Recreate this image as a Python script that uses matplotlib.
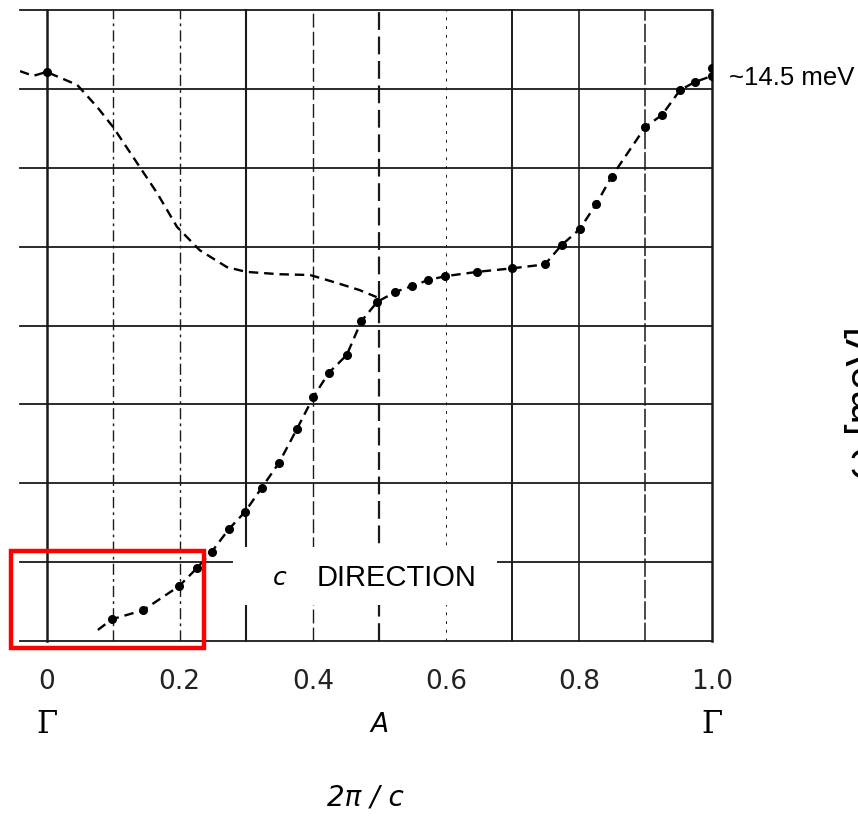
import numpy as np
import matplotlib
matplotlib.use('Agg')
import matplotlib.pyplot as plt
from matplotlib.patches import Rectangle

# phonon dispersion along c, q in units of 2pi/c, energy in meV
q_upper = [-0.04, -0.02, 0.0, 0.046, 0.076, 0.10, 0.136, 0.166, 0.196, 0.23, 0.271, 0.30, 0.35, 0.396, 0.436, 0.47, 0.496]
w_upper = [14.45, 14.33, 14.43, 14.1, 13.54, 13.03, 12.12, 11.36, 10.5, 9.91, 9.48, 9.36, 9.3, 9.28, 9.08, 8.9, 8.72]

q_lower = [0.077, 0.098, 0.145, 0.199, 0.226, 0.248, 0.274, 0.298, 0.323, 0.349, 0.376, 0.401,
           0.424, 0.451, 0.473, 0.497, 0.524, 0.549, 0.573, 0.599, 0.647, 0.70, 0.749, 0.774,
           0.801, 0.826, 0.849, 0.90, 0.925, 0.952, 0.974, 1.0, 1.0]
w_lower = [0.28, 0.55, 0.78, 1.39, 1.85, 2.26, 2.84, 3.27, 3.88, 4.51, 5.37, 6.19,
           6.8, 7.25, 8.11, 8.6, 8.85, 9.0, 9.15, 9.25, 9.36, 9.45, 9.55, 10.04,
           10.44, 11.08, 11.77, 13.04, 13.34, 13.97, 14.17, 14.33, 14.53]

gamma_q = [0.0]
gamma_w = [14.43]

tick_pos = [0.0, 0.2, 0.4, 0.6, 0.8, 1.0]
tick_labels = ['0', '0.2', '0.4', '0.6', '0.8', '1.0']
point_pos = [0.0, 0.5, 1.0]
point_labels = ['\u0393', 'A', '\u0393']

fig = plt.figure(figsize=(8.58, 8.16), dpi=100)
ax = fig.add_axes([20/858, 175/816, 692/858, 631/816])
ax.set_xlim(-0.04, 1.0)
ax.set_ylim(0, 16)
for s in ax.spines.values():
    s.set_visible(False)

# grid, like the old scanned graph paper
dd = (0, (8, 3, 2, 3))
vstyle = {0.0: ('-', 1.8), 0.1: (dd, 1.0), 0.2: (dd, 1.0), 0.3: ('-', 1.5), 0.4: ((0, (10, 3)), 1.0),
          0.5: ((0, (8, 3)), 1.6), 0.6: ((0, (3, 6)), 0.7), 0.7: ('-', 1.4), 0.8: ('-', 1.2),
          0.9: ((0, (12, 2)), 1.1), 1.0: ('-', 1.8)}
for xv, (ls, lw) in vstyle.items():
    ax.axvline(xv, color='#1a1a1a', ls=ls, lw=lw, zorder=1, clip_on=False)
for yv in range(0, 17, 2):
    ax.axhline(yv, color='#1a1a1a', ls='-', lw=1.3, zorder=1, clip_on=False)

# white patch under the label
ax.add_patch(Rectangle((0.28, 0.91), 0.397, 1.47, facecolor='white', edgecolor='none', zorder=2))

ax.plot(q_upper, w_upper, color='black', lw=1.7, dashes=(4, 2.5), zorder=3)
ax.plot(q_lower, w_lower, color='black', lw=1.7, dashes=(4, 2.5), marker='o', ms=5.5,
        markevery=list(range(1, len(q_lower))), zorder=3)
ax.plot(gamma_q, gamma_w, 'o', color='black', ms=5.5, zorder=3, clip_on=False)

ax.text(0.351, 1.6, 'c', fontsize=18, style='italic', ha='center', va='center', zorder=4)
ax.text(0.406, 1.6, 'DIRECTION', fontsize=21, family='Liberation Sans', ha='left', va='center', zorder=4)

ax.set_yticks([])
ax.set_xticks(tick_pos)
ax.set_xticklabels(tick_labels, fontsize=19, color='#222222')
ax.tick_params(axis='x', length=0, pad=20)

tr = ax.get_xaxis_transform()
for xp, lab in zip(point_pos, point_labels):
    if lab == 'A':
        ax.text(xp, -0.133, lab, transform=tr, fontsize=19, style='italic', ha='center', va='center')
    else:
        ax.text(xp, -0.133, lab, transform=tr, fontsize=22, family='DejaVu Serif', ha='center', va='center')

fig.text(365/858, 1 - 798/816, '2\u03c0 / c', fontsize=20, style='italic', ha='center', va='center')

# red box around the low-q region
ax.add_patch(Rectangle((-0.053, -0.165), 0.29, 2.455, fill=False, edgecolor='red', lw=3.2,
                       zorder=5, clip_on=False))

fig.text(729/858, 1 - 78/816, '~14.5 meV', fontsize=18.5, family='Liberation Sans', ha='left', va='center')
fig.text(845/858, 0.506, '\u03c9 [meV]', fontsize=30, family='Liberation Sans', rotation=90,
         ha='left', va='center')

fig.savefig('out.png', dpi=100)
